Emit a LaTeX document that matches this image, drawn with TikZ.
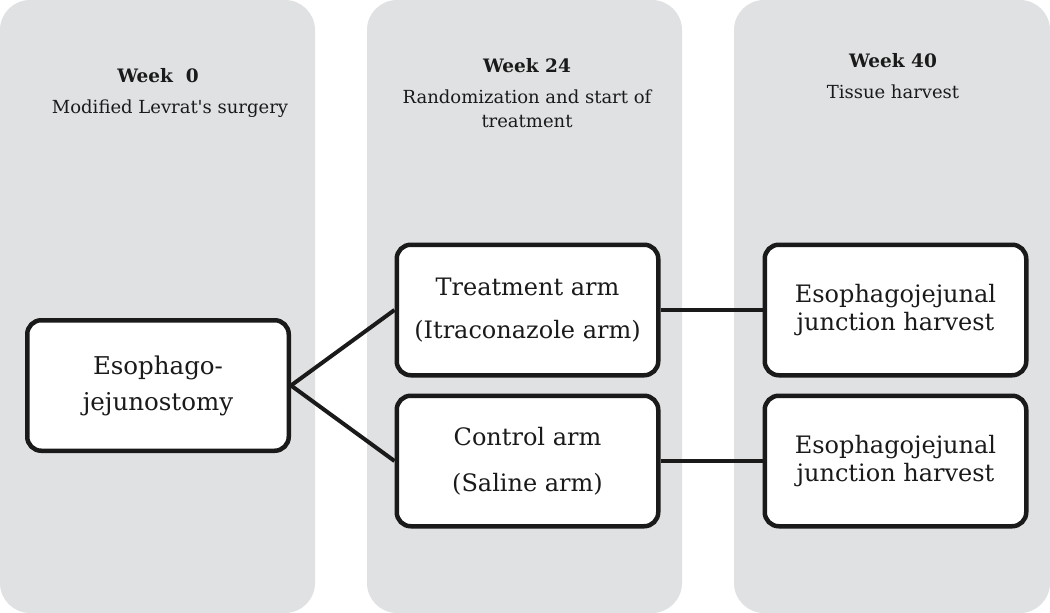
\documentclass[tikz,border=0pt]{standalone}
\usepackage{fontspec}
\setmainfont{DejaVu Serif}
\definecolor{colgray}{HTML}{E0E1E3}
\definecolor{ink}{HTML}{1A1A1A}
\begin{document}
\begin{tikzpicture}[x=1pt,y=-1pt,
  column/.style={fill=colgray, rounded corners=30pt},
  box/.style={draw=ink, line width=4.5pt, fill=white, rounded corners=14pt,
    minimum width=261.5pt, minimum height=130.5pt, align=center, inner sep=0pt, text=ink},
  link/.style={line width=4pt, draw=ink},
  head/.style={font=\bfseries\fontsize{18.5}{22}\selectfont, anchor=base, text=ink},
  sub/.style={font=\fontsize{18}{24}\selectfont, anchor=base, text=ink}]
\useasboundingbox (0,0) rectangle (1050,613);
% columns
\fill[column] (0,0) rectangle (315,613);
\fill[column] (367,0) rectangle (682,613);
\fill[column] (734,0) rectangle (1050,613);
% headers
\node[head] (h0) at (158,82) {Week~~0};
\node[sub] (s0) at (170,113) {Modified Levrat\textquotesingle s surgery};
\node[head] (h24) at (527,72) {Week 24};
\node[sub] (s24a) at (527,103) {Randomization and start of};
\node[sub] (s24b) at (527,127) {treatment};
\node[head] (h40) at (893,67) {Week 40};
\node[sub] (s40) at (893,98) {Tissue harvest};
% boxes
\node[box, font=\fontsize{24.5}{36}\selectfont] (ej) at (158,385.5) {Esophago-\\jejunostomy};
\node[box, font=\fontsize{24}{43}\selectfont] (tr) at (527.5,310) {Treatment arm\\(Itraconazole arm)};
\node[box, font=\fontsize{24}{46}\selectfont] (ct) at (527.5,461) {Control arm\\(Saline arm)};
\node[box, font=\fontsize{24}{28}\selectfont] (h1) at (895.5,310) {Esophagojejunal\\junction harvest};
\node[box, font=\fontsize{24}{28}\selectfont] (h2) at (895.5,461) {Esophagojejunal\\junction harvest};
% connectors
\draw[link] (ej.east) -- (tr.west);
\draw[link] (ej.east) -- (ct.west);
\draw[link] (tr.east) -- (h1.west);
\draw[link] (ct.east) -- (h2.west);
\end{tikzpicture}
\end{document}
